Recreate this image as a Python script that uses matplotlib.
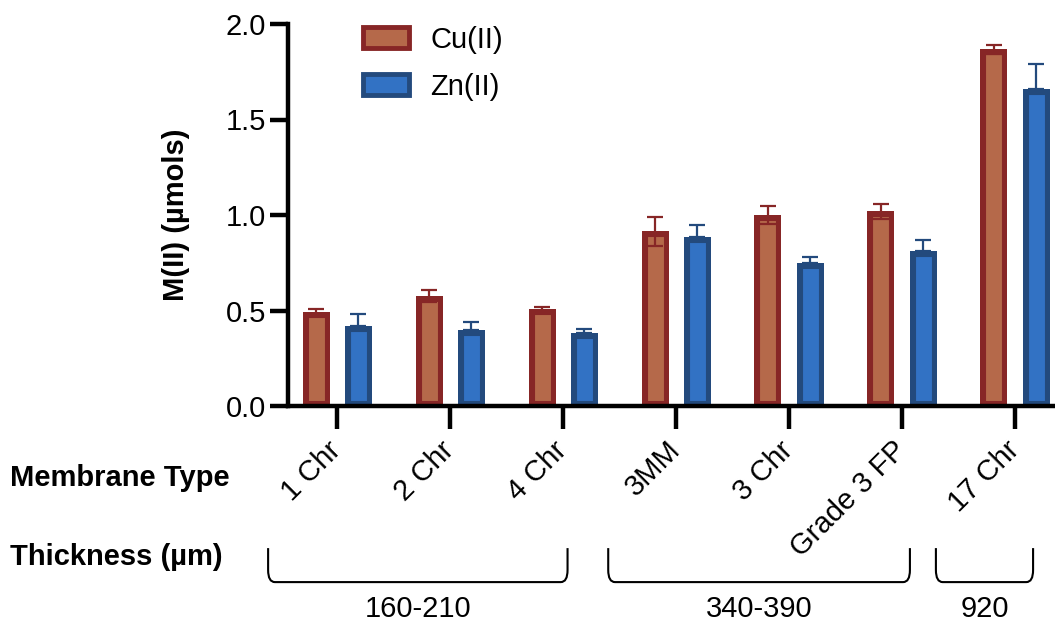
import matplotlib
matplotlib.use('Agg')
import matplotlib.pyplot as plt
import matplotlib.patches as mpatches
from matplotlib.path import Path
import numpy as np

plt.rcParams['font.family'] = ['Liberation Sans', 'DejaVu Sans']

# data
membranes = ['1 Chr', '2 Chr', '4 Chr', '3MM', '3 Chr', 'Grade 3 FP', '17 Chr']
cu_mean = [0.49, 0.576, 0.506, 0.914, 1.002, 1.019, 1.867]
cu_err = [0.02, 0.033, 0.011, 0.076, 0.047, 0.039, 0.025]
zn_mean = [0.42, 0.398, 0.382, 0.887, 0.749, 0.81, 1.661]
zn_err = [0.063, 0.042, 0.021, 0.062, 0.029, 0.057, 0.131]

thickness = ['160-210', '340-390', '920']
bracket_start = [-0.61, 2.40, 5.30]
bracket_end = [2.04, 5.07, 6.16]

cu_face, cu_edge = '#B5694A', '#872626'
zn_face, zn_edge = '#3272C4', '#234A7D'

fs = 21

fig = plt.figure(figsize=(10.55, 6.25), dpi=100)
ax = fig.add_axes([288/1055, 219/625, 767/1055, 382/625])

x = np.arange(len(membranes))
w = 0.239
off = 0.186

bars_cu = ax.bar(x - off, cu_mean, w, color=cu_face, edgecolor=cu_edge, linewidth=8, zorder=2)
bars_zn = ax.bar(x + off, zn_mean, w, color=zn_face, edgecolor=zn_edge, linewidth=8, zorder=2)
# graphpad style: outline drawn inside the bar
for b in list(bars_cu) + list(bars_zn):
    b.set_clip_path(b)

ax.errorbar(x - off, cu_mean, yerr=cu_err, fmt='none', ecolor=cu_edge, elinewidth=1.6,
            capsize=5.5, capthick=1.6, zorder=3)
ax.errorbar(x + off, zn_mean, yerr=[np.zeros(len(zn_err)), zn_err], fmt='none', ecolor=zn_edge,
            elinewidth=1.6, capsize=5.5, capthick=1.6, zorder=3)

ax.set_xlim(-0.434, 6.354)
ax.set_ylim(0, 2.0)
ax.set_yticks([0, 0.5, 1.0, 1.5, 2.0])
ax.set_yticklabels(['0.0', '0.5', '1.0', '1.5', '2.0'], fontsize=fs)
ax.set_xticks(x)
ax.set_xticklabels(membranes, fontsize=fs, rotation=45, ha='right', va='center',
                   rotation_mode='anchor')

for s in ['top', 'right']:
    ax.spines[s].set_visible(False)
for s in ['left', 'bottom']:
    ax.spines[s].set_linewidth(3.2)
ax.tick_params(axis='y', length=13, width=3.2, pad=3)
ax.tick_params(axis='x', length=16.5, width=3.2, pad=12)

ax.set_ylabel('M(II) (µmols)', fontsize=fs, fontweight='bold')
ax.yaxis.set_label_coords(-0.128, 0.5)

# legend
h_cu = mpatches.Patch(facecolor=cu_face, edgecolor=cu_edge, linewidth=3.5)
h_zn = mpatches.Patch(facecolor=zn_face, edgecolor=zn_edge, linewidth=3.5)
ax.legend([h_cu, h_zn], ['Cu(II)', 'Zn(II)'], loc='upper left', bbox_to_anchor=(0.064, 1.064),
          frameon=False, fontsize=fs, handlelength=1.55, handleheight=0.7,
          handletextpad=0.75, labelspacing=0.65)

# row titles
fig.text(10/1055, 1 - 478/625, 'Membrane Type', fontsize=fs, fontweight='bold', va='center', ha='left')
fig.text(10/1055, 1 - 557/625, 'Thickness (µm)', fontsize=fs, fontweight='bold', va='center', ha='left')

# thickness brackets
trans = ax.get_xaxis_transform()
ytop, ybot, ytxt = -0.372, -0.461, -0.532
r = 0.035
for lab, a, b in zip(thickness, bracket_start, bracket_end):
    verts = [(a, ytop), (a, ybot + r * 0.9), (a, ybot), (a + 0.06, ybot),
             (b - 0.06, ybot), (b, ybot), (b, ybot + r * 0.9), (b, ytop)]
    codes = [Path.MOVETO, Path.LINETO, Path.CURVE3, Path.CURVE3,
             Path.LINETO, Path.CURVE3, Path.CURVE3, Path.LINETO]
    ax.add_patch(mpatches.PathPatch(Path(verts, codes), transform=trans, fill=False,
                                    linewidth=1.5, edgecolor='black', clip_on=False))
    ax.text((a + b) / 2, ytxt, lab, transform=trans, ha='center', va='center', fontsize=fs)

fig.savefig('out.png', dpi=100)
